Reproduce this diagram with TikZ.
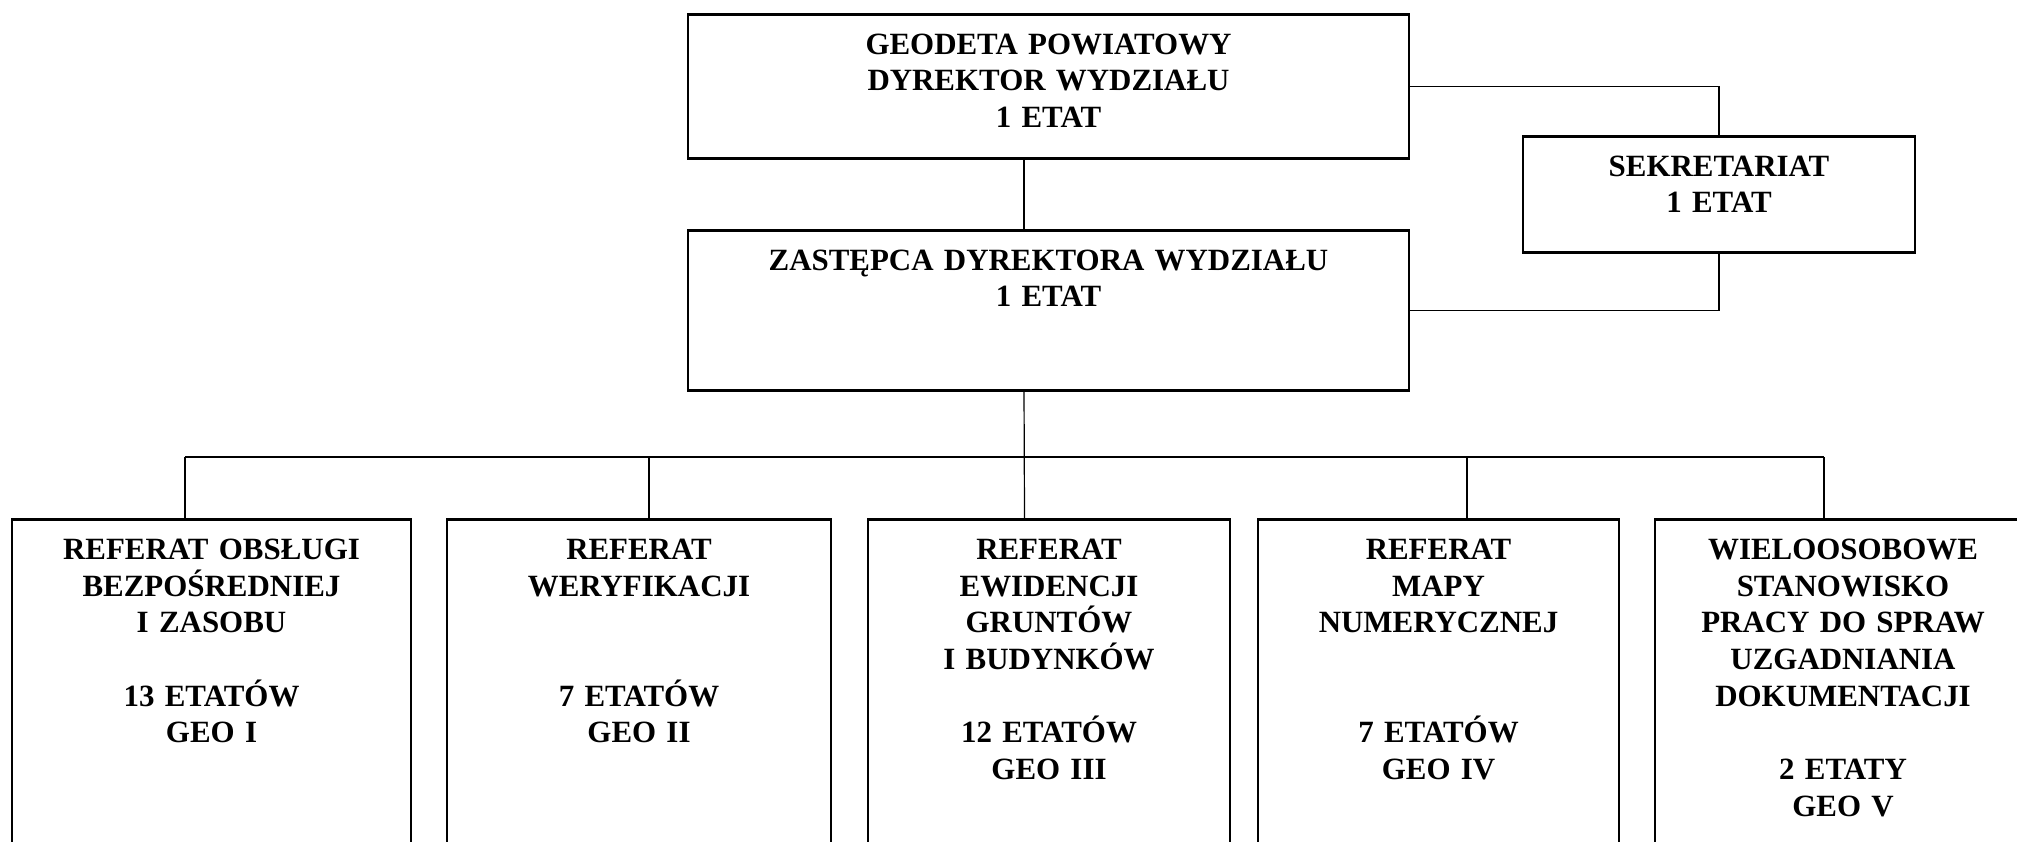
\documentclass[tikz,border=0pt]{standalone}
\usepackage{fontspec}
\setmainfont{Liberation Serif}

\tikzset{
    unit/.style={draw, line width=0.25mm, inner sep=0pt, align=center,
        font=\fontsize{8.8pt}{10.45pt}\selectfont\bfseries, text height=4mm},
    wire/.style={line width=0.12mm},
    bus/.style={line width=0.2mm}
}

\begin{document}
\begin{tikzpicture}[x=0.1mm, y=-0.1mm]
    \clip (0,0) rectangle (2017,841);

    \node[unit, text width=72.1mm, text depth=10.4mm] (geodeta) at (1048.5,13) [anchor=north]
        {GEODETA POWIATOWY\\DYREKTOR WYDZIAŁU\\1 ETAT};
    \node[unit, text width=72.1mm, text depth=12mm] (zastepca) at (1048.5,229) [anchor=north]
        {ZASTĘPCA DYREKTORA WYDZIAŁU\\1 ETAT};
    \node[unit, text width=39.2mm, text depth=7.6mm] (sekretariat) at (1719,135) [anchor=north]
        {SEKRETARIAT\\1 ETAT};

    \node[unit, text width=39.9mm, text depth=32.2mm] (geo1) at (211.5,518) [anchor=north]
        {REFERAT OBSŁUGI\\BEZPOŚREDNIEJ\\I ZASOBU\\[\baselineskip]13 ETATÓW\\GEO I};
    \node[unit, text width=38.4mm, text depth=32.2mm] (geo2) at (639,518) [anchor=north]
        {REFERAT\\WERYFIKACJI\\[2\baselineskip]7 ETATÓW\\GEO II};
    \node[unit, text width=36.2mm, text depth=32.2mm] (geo3) at (1049,518) [anchor=north]
        {REFERAT\\EWIDENCJI\\GRUNTÓW\\I BUDYNKÓW\\[\baselineskip]12 ETATÓW\\GEO III};
    \node[unit, text width=36.1mm, text depth=32.2mm] (geo4) at (1438.5,518) [anchor=north]
        {REFERAT\\MAPY\\NUMERYCZNEJ\\[2\baselineskip]7 ETATÓW\\GEO IV};
    \node[unit, text width=37.6mm, text depth=32.2mm] (geo5) at (1843,518) [anchor=north]
        {WIELOOSOBOWE\\STANOWISKO\\PRACY DO SPRAW\\UZGADNIANIA\\DOKUMENTACJI\\[\baselineskip]2 ETATY\\GEO V};

    \draw[wire] ([xshift=-2.45mm]geodeta.south) -- ([xshift=-2.45mm]zastepca.north);
    \draw[wire] (geodeta.east) -| (sekretariat.north);
    \draw[wire] (sekretariat.south) |- (zastepca.east);
    \draw[wire] ([xshift=-2.45mm]zastepca.south) -- ([xshift=-2.45mm]geo3.north);

    \draw[bus] ([xshift=-2.65mm, yshift=6.1mm]geo1.north) -- ([xshift=-1.9mm, yshift=6.1mm]geo5.north);
    \draw[wire] ([xshift=-2.65mm]geo1.north) -- ++(0,6.1mm);
    \draw[wire] ([xshift=1mm]geo2.north) -- ++(0,6.1mm);
    \draw[wire] ([xshift=2.85mm]geo4.north) -- ++(0,6.1mm);
    \draw[wire] ([xshift=-1.9mm]geo5.north) -- ++(0,6.1mm);
\end{tikzpicture}
\end{document}
